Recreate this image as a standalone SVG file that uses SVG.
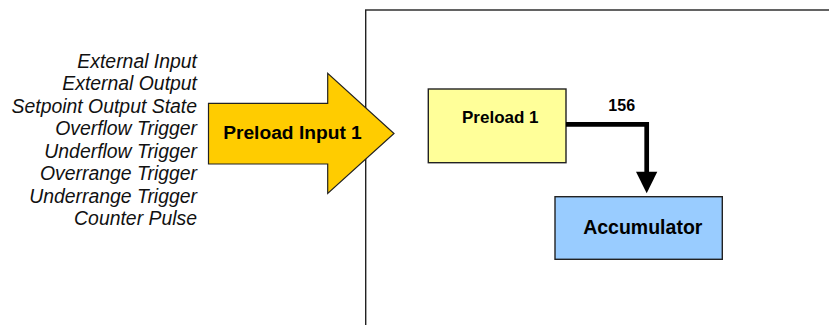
<svg xmlns="http://www.w3.org/2000/svg" width="829" height="325" viewBox="0 0 829 325">
<style>
.lbl{font-family:"Liberation Sans",Arial,sans-serif;font-style:italic;font-size:19.4px;fill:#111;text-anchor:end}
.b{font-family:"Liberation Sans",Arial,sans-serif;font-weight:bold;fill:#000;text-anchor:middle}
.box{stroke:#222;stroke-width:1.4}
</style>
<rect width="829" height="325" fill="#fff"/>
<g id="frame"><rect x="365.7" y="10" width="500" height="400" fill="none" stroke="#222" stroke-width="1.4"/></g>
<g id="inputs">
<text class="lbl" x="197" y="67.5">External Input</text>
<text class="lbl" x="197" y="90">External Output</text>
<text class="lbl" x="197" y="112.5">Setpoint Output State</text>
<text class="lbl" x="197" y="135">Overflow Trigger</text>
<text class="lbl" x="197" y="157.5">Underflow Trigger</text>
<text class="lbl" x="197" y="180">Overrange Trigger</text>
<text class="lbl" x="197" y="202.5">Underrange Trigger</text>
<text class="lbl" x="197" y="225">Counter Pulse</text>
</g>
<g id="preload-input">
<polygon points="208.5,103.3 327.7,103.3 327.7,73.3 394,133.5 327.7,193.5 327.7,164 208.5,164" fill="#FFCC00" stroke="#222" stroke-width="1.2"/>
<text class="b" x="292.5" y="139" font-size="19.2px">Preload Input 1</text>
</g>
<g id="preload1">
<rect class="box" x="428.3" y="89" width="137.7" height="73.7" fill="#FFFF99"/>
<text class="b" x="500.3" y="123.3" font-size="17px">Preload 1</text>
</g>
<g id="accumulator">
<rect class="box" x="555" y="196.7" width="167.3" height="62.6" fill="#99CCFF"/>
<text class="b" x="642.8" y="234" font-size="19.5px">Accumulator</text>
</g>
<g id="connectors">
<polyline points="566,124.3 646.7,124.3 646.7,173" fill="none" stroke="#000" stroke-width="4.7"/>
<polygon points="636,171.7 657.3,171.7 646.7,193.3" fill="#000"/>
<text class="b" x="621.7" y="111" font-size="16px">156</text>
</g>
</svg>
